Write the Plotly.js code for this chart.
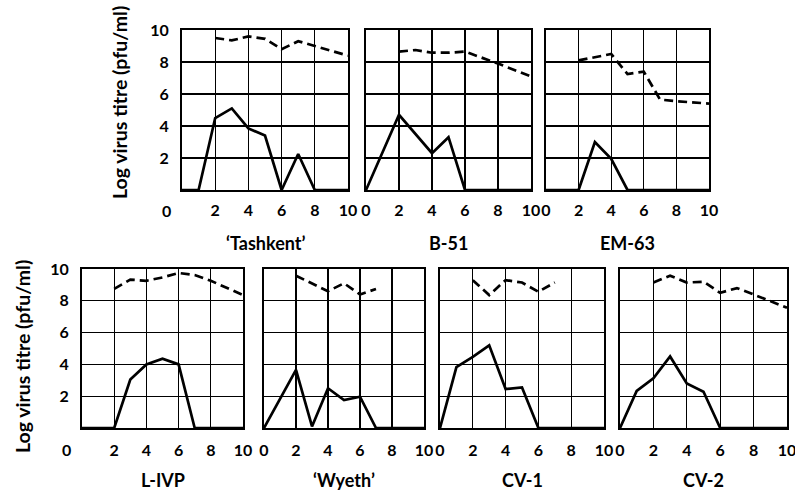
<!DOCTYPE html>
<html><head><meta charset="utf-8">
<script src="https://cdn.plot.ly/plotly-3.0.1.min.js"></script>
<style>html,body{margin:0;padding:0;background:#fff}#chart{width:795px;height:495px}</style>
</head><body><div id="chart"></div>
<script>
// Panel names (order: top row then bottom row)
const panelNames = ["\u2018Tashkent\u2019", "B-51", "EM-63", "L-IVP", "\u2018Wyeth\u2019", "CV-1", "CV-2"];
const xTicks = [0, 2, 4, 6, 8, 10];
const xTicksNoZero = [2, 4, 6, 8, 10];
const yTicks = [2, 4, 6, 8, 10];
const yTitle = "Log virus titre (pfu/ml)";

// Solid line (lower curve) per panel
const tashkentSolidX = [0, 1, 2, 3, 4, 5, 6, 7, 8, 10];
const tashkentSolidY = [0, 0, 4.5, 5.1, 3.85, 3.4, 0, 2.25, 0, 0];
const b51SolidX = [0, 2, 4, 5, 6, 10];
const b51SolidY = [0, 4.7, 2.3, 3.3, 0, 0];
const em63SolidX = [0, 2, 3, 4, 5, 10];
const em63SolidY = [0, 0, 3.0, 1.95, 0, 0];
const livpSolidX = [0, 2, 3, 4, 5, 6, 7, 10];
const livpSolidY = [0, 0, 3.05, 4.0, 4.36, 4.0, 0, 0];
const wyethSolidX = [0, 2, 3, 4, 5, 6, 7, 10];
const wyethSolidY = [0, 3.65, 0.1, 2.5, 1.76, 1.97, 0, 0];
const cv1SolidX = [0, 1, 2, 3, 4, 5, 6, 10];
const cv1SolidY = [0, 3.83, 4.47, 5.2, 2.45, 2.55, 0, 0];
const cv2SolidX = [0, 1, 2, 3, 4, 5, 6, 10];
const cv2SolidY = [0, 2.33, 3.13, 4.5, 2.8, 2.28, 0, 0];

// Dashed line (upper curve) per panel
const tashkentDashX = [2, 3, 4, 5, 6, 7, 8, 10];
const tashkentDashY = [9.5, 9.35, 9.6, 9.45, 8.8, 9.3, 9.0, 8.4];
const b51DashX = [2, 3, 4, 5, 6, 8, 10];
const b51DashY = [8.65, 8.75, 8.58, 8.58, 8.65, 7.9, 7.1];
const em63DashX = [2, 4, 5, 6, 7, 8, 10];
const em63DashY = [8.1, 8.5, 7.25, 7.4, 5.65, 5.55, 5.4];
const livpDashX = [2, 3, 4, 5, 6, 7, 8, 10];
const livpDashY = [8.75, 9.33, 9.26, 9.47, 9.75, 9.62, 9.26, 8.36];
const wyethDashX = [2, 3, 4, 5, 6, 7];
const wyethDashY = [9.58, 9.1, 8.6, 9.1, 8.4, 8.74];
const cv1DashX = [2, 3, 4, 5, 6, 7];
const cv1DashY = [9.3, 8.36, 9.3, 9.15, 8.57, 9.15];
const cv2DashX = [2, 3, 4, 5, 6, 7, 8, 9, 10];
const cv2DashY = [9.15, 9.58, 9.15, 9.2, 8.5, 8.8, 8.4, 8.0, 7.56];

const solids = [[tashkentSolidX, tashkentSolidY],[b51SolidX, b51SolidY],[em63SolidX, em63SolidY],
  [livpSolidX, livpSolidY],[wyethSolidX, wyethSolidY],[cv1SolidX, cv1SolidY],[cv2SolidX, cv2SolidY]];
const dashes = [[tashkentDashX, tashkentDashY],[b51DashX, b51DashY],[em63DashX, em63DashY],
  [livpDashX, livpDashY],[wyethDashX, wyethDashY],[cv1DashX, cv1DashY],[cv2DashX, cv2DashY]];

const W = 795, H = 495;
// panel pixel boxes [left, right, top, bottom]
const boxes = [
  [182, 348, 30, 190], [366, 531, 30, 190], [546, 709, 30, 190],
  [82, 243, 269, 428], [264, 424, 269, 428], [440, 604, 269, 428], [620, 787, 269, 428]
];
const withY = [true, false, false, true, false, false, false];
const FONT = "Lato, 'Open Sans', sans-serif";
const TICKFONT = {size: 16, family: FONT, weight: "bold", color: "#000"};

const traces = [];
const layout = {
  width: W, height: H, margin: {l: 0, r: 0, t: 0, b: 0},
  paper_bgcolor: "#fff", plot_bgcolor: "#fff", showlegend: false,
  font: {family: FONT, color: "#000", size: 17},
  annotations: []
};

boxes.forEach((b, i) => {
  const n = i + 1;
  const xa = n === 1 ? "x" : "x" + n, ya = n === 1 ? "y" : "y" + n;
  traces.push({x: solids[i][0], y: solids[i][1], xaxis: xa, yaxis: ya, mode: "lines",
    line: {color: "#000", width: 2.7}, hoverinfo: "skip"});
  traces.push({x: dashes[i][0], y: dashes[i][1], xaxis: xa, yaxis: ya, mode: "lines",
    line: {color: "#000", width: 2.7, dash: "9px,5px"}, hoverinfo: "skip"});
  const xk = n === 1 ? "xaxis" : "xaxis" + n, yk = n === 1 ? "yaxis" : "yaxis" + n;
  const top = i < 3;
  layout[xk] = {
    domain: [b[0] / W, b[1] / W], anchor: ya, range: [0, 10],
    tickmode: "array", tickvals: withY[i] ? xTicksNoZero : xTicks,
    ticks: "", ticklabelstandoff: top ? 5 : 7, tickfont: TICKFONT, ticklabeloverflow: "allow",
    showgrid: true, gridcolor: "#000", gridwidth: 1.2, zeroline: false,
    showline: true, linecolor: "#000", linewidth: 2, mirror: true, fixedrange: true
  };
  layout[yk] = {
    domain: [1 - b[3] / H, 1 - b[2] / H], anchor: xa, range: [0, 10],
    tickmode: "array", tickvals: yTicks, showticklabels: withY[i],
    ticks: "", ticklabelstandoff: 8, tickfont: TICKFONT,
    showgrid: true, gridcolor: "#000", gridwidth: 1.2, zeroline: false,
    showline: true, linecolor: "#000", linewidth: 2, mirror: true, fixedrange: true
  };
  // panel name
  const rowLabelY = top ? 243 : 480;
  layout.annotations.push({text: panelNames[i], xref: "paper", yref: "paper",
    x: ((b[0] + b[1]) / 2) / W, y: 1 - rowLabelY / H, xanchor: "center", yanchor: "middle",
    showarrow: false, font: {size: 18, family: FONT, weight: "bold"}});
  if (withY[i]) {
    // shared origin "0" placed in y-label column, on x-label row
    layout.annotations.push({text: "0", xref: "paper", yref: "paper",
      x: (b[0] - 9) / W, y: 1 - (b[3] + (top ? 20 : 21)) / H, xanchor: "right", yanchor: "middle",
      showarrow: false, font: TICKFONT});
    // y title
    const cy = top ? 103 : 357;
    const cx = top ? 119 : 22;
    layout.annotations.push({text: yTitle, xref: "paper", yref: "paper",
      x: cx / W, y: 1 - cy / H, xanchor: "center", yanchor: "middle", textangle: -90,
      showarrow: false, font: {size: 19.5, family: FONT, weight: "bold"}});
  }
});

Plotly.newPlot("chart", traces, layout, {displayModeBar: false, staticPlot: true});
</script></body></html>
